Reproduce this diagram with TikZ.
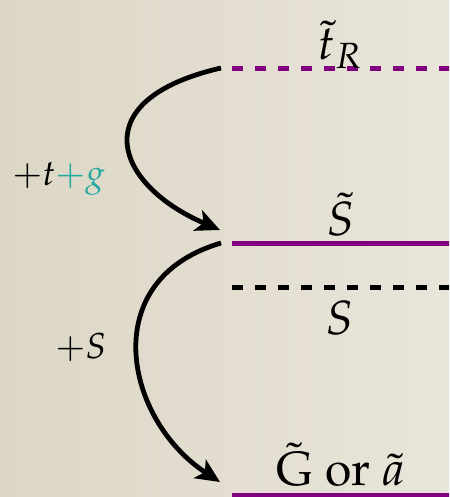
\documentclass[tikz,border=0pt]{standalone}
\usepackage[T1]{fontenc}
\usepackage{mathpazo}
\usetikzlibrary{arrows.meta}
\definecolor{levelpurple}{RGB}{128, 0, 128}
\definecolor{gluonteal}{RGB}{32, 170, 160}
\definecolor{paperdark}{RGB}{220, 214, 197}
\definecolor{paperlight}{RGB}{233, 229, 218}

\begin{document}
\begin{tikzpicture}[x=0.5pt, y=-0.5pt,
  level/.style={line width=2.5pt, levelpurple},
  dashlevel/.style={level, dash pattern=on 5.5pt off 6pt},
  decay/.style={-{Stealth[length=12pt, width=11pt, inset=3pt]}, line width=2.4pt},
  biglabel/.style={font=\fontsize{24}{28}\selectfont, inner sep=0pt, anchor=base},
  sidelabel/.style={font=\fontsize{18}{22}\selectfont, inner sep=0pt, anchor=base west},
]
% Paper background
\useasboundingbox (0,0) rectangle (449,497);
\fill[left color=paperdark, right color=paperlight] (0,0) rectangle (449,497);
\clip (0,0) rectangle (449,497);

% Levels
\coordinate (tRl) at (232,69);  \coordinate (tRr) at (460,69);
\coordinate (Stl) at (232,243); \coordinate (Str) at (460,243);
\coordinate (Sl) at (232,287);  \coordinate (Sr) at (460,287);
\coordinate (Gl) at (232,495);  \coordinate (Gr) at (460,495);

\draw[dashlevel] (tRl) -- (tRr);
\draw[level] (Stl) -- (Str);
\draw[dashlevel, black] (Sl) -- (Sr);
\draw[level] (Gl) -- (Gr);

\node[biglabel] (tR) at (340,60) {$\tilde{t}_R$};
\node[biglabel] (St) at (341,235) {$\tilde{S}$};
\node[biglabel, anchor=north] (S) at (340,300) {$S$};
\node[biglabel] (Ga) at (341,485) {$\tilde{\mathrm{G}}$ or $\tilde{a}$};

% Decays
\coordinate (d1s) at (221,68);  \coordinate (d1e) at (220,230);
\coordinate (d2s) at (221,243); \coordinate (d2e) at (220,482);

\draw[decay] (d1s) .. controls (82,100) and (115,185) .. (d1e);
\draw[decay] (d2s) .. controls (95,280) and (125,420) .. (d2e);

\node[sidelabel] (tg) at (12,185) {$+t{\color{gluonteal}+g}$};
\node[sidelabel] (pS) at (55,358) {$+S$};
\end{tikzpicture}
\end{document}
